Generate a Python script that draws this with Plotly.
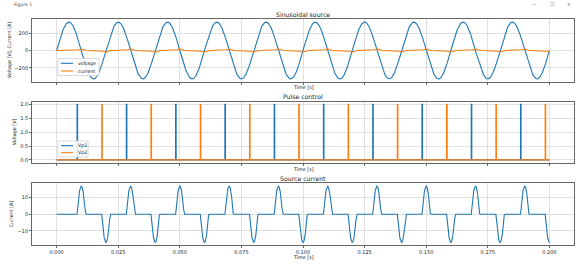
import numpy as np
import plotly.graph_objects as go

# ---------------- data ----------------
FREQ_HZ = 50
V_PEAK = 325            # voltage amplitude [V]
I_PEAK = 17             # current pulse peak [A]
T_END = 0.2             # simulation end [s]
VP1_FIRING = [0.0083, 0.0283, 0.0483, 0.0683, 0.0883,
              0.1083, 0.1283, 0.1483, 0.1683, 0.1883]
VP2_FIRING = [0.0183, 0.0383, 0.0583, 0.0783, 0.0983,
              0.1183, 0.1383, 0.1583, 0.1783, 0.1983]
PULSE_HIGH = 2.0        # gate pulse level [V]
PULSE_WIDTH = 0.0002    # gate pulse width [s]
X_TICKS = [0.0, 0.025, 0.05, 0.075, 0.1, 0.125, 0.15, 0.175, 0.2]
Y1_TICKS = [-200, 0, 200]
Y2_TICKS = [0.0, 0.5, 1.0, 1.5, 2.0]
Y3_TICKS = [-10, 0, 10]
TITLES = ["Sinusoidal source", "Pulse control", "Source current"]
YLABELS = ["Voltage [V], Current [A]", "Voltage [V]", "Current [A]"]
LEG1 = ["voltage", "current"]
LEG2 = ["Vp1", "Vp2"]

# ---------------- simulation from those parameters ----------------
w = 2 * np.pi * FREQ_HZ
t = np.linspace(0, T_END, 8001)
voltage = V_PEAK * np.sin(w * t)
half = 0.5 / FREQ_HZ
current = np.zeros_like(t)
for t0 in VP1_FIRING + VP2_FIRING:
    tc = np.ceil(t0 / half) * half
    dur = 2 * (tc - t0)
    c0 = np.cos(w * t0)
    K = I_PEAK / (1 - abs(c0))
    m = (t >= t0) & (t <= t0 + dur)
    current[m] = K * (c0 - np.cos(w * t[m]))


def pulses(firings):
    xs, ys = [0.0], [0.0]
    for f in firings:
        xs += [f, f, f + PULSE_WIDTH, f + PULSE_WIDTH]
        ys += [0, PULSE_HIGH, PULSE_HIGH, 0]
    xs.append(T_END)
    ys.append(0)
    return xs, ys


vp1x, vp1y = pulses(VP1_FIRING)
vp2x, vp2y = pulses(VP2_FIRING)

# ---------------- styling ----------------
W, H = 580, 264
C0, C1 = "#1f77b4", "#ff7f0e"
GRID = "#e0e0e0"
FRAME = "#666666"
TXT = "#222222"
FONT = "DejaVu Sans"


def px(x):
    return x / W


def py(y):
    return 1 - y / H


X0, X1 = px(32), px(574)
DOMS = [(py(81.7), py(19.3)), (py(162.7), py(101.7)), (py(245.3), py(183.3))]

fig = go.Figure()
fig.add_trace(go.Scatter(x=t, y=voltage, mode="lines", line=dict(color=C0, width=1.1),
                         xaxis="x", yaxis="y", showlegend=False))
fig.add_trace(go.Scatter(x=t, y=current, mode="lines", line=dict(color=C1, width=1.1),
                         xaxis="x", yaxis="y", showlegend=False))
fig.add_trace(go.Scatter(x=vp1x, y=vp1y, mode="lines", line=dict(color=C0, width=1.2),
                         xaxis="x2", yaxis="y2", showlegend=False))
fig.add_trace(go.Scatter(x=vp2x, y=vp2y, mode="lines", line=dict(color=C1, width=1.2),
                         xaxis="x2", yaxis="y2", showlegend=False))
fig.add_trace(go.Scatter(x=t, y=current, mode="lines", line=dict(color=C0, width=1.1),
                         xaxis="x3", yaxis="y3", showlegend=False))

axis_common = dict(showgrid=True, gridcolor=GRID, gridwidth=0.8, showline=True, mirror=True,
                   linecolor=FRAME, linewidth=0.8, ticks="outside", ticklen=2, tickwidth=0.6,
                   tickcolor=FRAME, zeroline=False,
                   tickfont=dict(family=FONT, size=5, color=TXT))

xr = [-0.01, 0.21]
layout = dict(
    width=W, height=H, margin=dict(l=0, r=0, t=0, b=0),
    paper_bgcolor="white", plot_bgcolor="white",
    font=dict(family=FONT, color=TXT),
    xaxis=dict(axis_common, domain=[X0, X1], range=xr, tickvals=X_TICKS,
               showticklabels=False, anchor="y"),
    xaxis2=dict(axis_common, domain=[X0, X1], range=xr, tickvals=X_TICKS,
                showticklabels=False, anchor="y2"),
    xaxis3=dict(axis_common, domain=[X0, X1], range=xr, tickvals=X_TICKS,
                tickformat=".3f", anchor="y3"),
    yaxis=dict(axis_common, domain=list(DOMS[0]), range=[-357, 357], tickvals=Y1_TICKS, anchor="x"),
    yaxis2=dict(axis_common, domain=list(DOMS[1]), range=[-0.1, 2.1], tickvals=Y2_TICKS,
                tickformat=".1f", anchor="x2"),
    yaxis3=dict(axis_common, domain=list(DOMS[2]), range=[-18.7, 18.7], tickvals=Y3_TICKS, anchor="x3"),
)
fig.update_layout(**layout)

ann = []
shapes = []
xc = (X0 + X1) / 2
# titles
for title, yy in zip(TITLES, [14.5, 96.5, 178.3]):
    ann.append(dict(text=title, x=xc, y=py(yy), xref="paper", yref="paper", showarrow=False,
                    font=dict(family=FONT, size=6.2, color=TXT), xanchor="center", yanchor="middle"))
# x labels
for yy in [88, 169, 257.5]:
    ann.append(dict(text="Time [s]", x=xc, y=py(yy), xref="paper", yref="paper", showarrow=False,
                    font=dict(family=FONT, size=4.8, color=TXT), xanchor="center", yanchor="middle"))
# y labels
for lab, xx, (d0, d1) in zip(YLABELS, [9.5, 14, 11], DOMS):
    ann.append(dict(text=lab, x=px(xx), y=(d0 + d1) / 2, xref="paper", yref="paper", showarrow=False,
                    textangle=-90, font=dict(family=FONT, size=4.8, color=TXT),
                    xanchor="center", yanchor="middle"))


def legend(labels, box, ys):
    x0, y0, x1, y1 = box
    shapes.append(dict(type="rect", xref="paper", yref="paper", x0=px(x0), x1=px(x1),
                       y0=py(y1), y1=py(y0), line=dict(color="#d0d0d0", width=0.8),
                       fillcolor="rgba(255,255,255,0.85)", layer="above"))
    for lab, col, yy in zip(labels, [C0, C1], ys):
        shapes.append(dict(type="line", xref="paper", yref="paper", x0=px(61), x1=px(73),
                           y0=py(yy), y1=py(yy), line=dict(color=col, width=1.1), layer="above"))
        ann.append(dict(text=lab, x=px(76), y=py(yy), xref="paper", yref="paper", showarrow=False,
                        font=dict(family=FONT, size=4.8, color=TXT), xanchor="left", yanchor="middle"))


legend(LEG1, (58, 58.5, 99, 75.5), [63.3, 71])
legend(LEG2, (58, 141, 88, 157), [145.7, 152.7])

# window chrome
ann.append(dict(text="Figure 1", x=px(12), y=py(5), xref="paper", yref="paper", showarrow=False,
                font=dict(family=FONT, size=4.5, color="#444"), xanchor="left", yanchor="middle"))
for sym, xx in [("\u2014", 534), ("\u2750", 552), ("\u2715", 569)]:
    ann.append(dict(text=sym, x=px(xx), y=py(4.5), xref="paper", yref="paper", showarrow=False,
                    font=dict(family=FONT, size=4.5, color="#777"), xanchor="center", yanchor="middle"))

fig.update_layout(annotations=ann, shapes=shapes)
fig.write_html("out.html", config={"displayModeBar": False},
               post_script="document.body.style.margin='0';document.body.style.overflow='hidden';")
